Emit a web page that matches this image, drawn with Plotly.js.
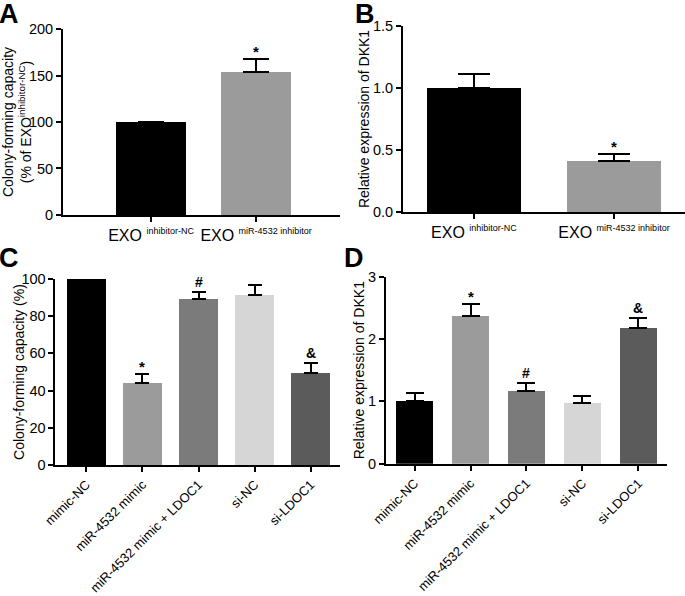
<!DOCTYPE html>
<html>
<head>
<meta charset="utf-8">
<script src="https://cdn.plot.ly/plotly-3.0.1.min.js"></script>
<style>
  body { margin: 0; background: #fff; }
  #fig { width: 685px; height: 596px; }
</style>
</head>
<body>
<div id="fig"></div>
<script>
// panel A: colony forming, exosome groups
var labelsA = ['EXO <sup><span style="font-size:9px">inhibitor-NC</span></sup>', 'EXO <sup><span style="font-size:9px">miR-4532 inhibitor</span></sup>'];
var valuesA = [100, 153.5];
var errorsA = [0, 14.5];
var marksA = ['', '*'];
var colorsA = ['#000000', '#9b9b9b'];

// panel B: DKK1 expression, exosome groups
var labelsB = labelsA;
var valuesB = [1.0, 0.41];
var errorsB = [0.11, 0.06];
var marksB = ['', '*'];
var colorsB = ['#000000', '#9b9b9b'];

// panels C and D: five transfection groups
var groupsCD = ['mimic-NC', 'miR-4532 mimic', 'miR-4532 mimic + LDOC1', 'si-NC', 'si-LDOC1'];
var colorsCD = ['#000000', '#9b9b9b', '#7b7b7b', '#d6d6d6', '#5b5b5b'];

var valuesC = [100, 44, 89, 91.5, 49.5];
var errorsC = [0, 4.8, 4.2, 5.2, 5.2];
var marksC = ['', '*', '#', '', '&'];

var valuesD = [1.0, 2.37, 1.16, 0.98, 2.17];
var errorsD = [0.13, 0.19, 0.13, 0.11, 0.17];
var marksD = ['', '*', '#', '', '&'];

var fontFam = 'Arial, "Liberation Sans", Helvetica, sans-serif';

function idx(arr) {
  var out = [];
  for (var i = 0; i < arr.length; i++) out.push(i);
  return out;
}

function zeros(arr) {
  return arr.map(function () { return 0; });
}

function barTrace(vals, errs, colors, width, capw, ax) {
  return {
    type: 'bar',
    x: idx(vals),
    y: vals,
    width: width,
    xaxis: 'x' + ax,
    yaxis: 'y' + ax,
    marker: { color: colors, line: { width: 0 } },
    error_y: {
      type: 'data',
      symmetric: false,
      array: errs,
      arrayminus: zeros(errs),
      color: '#000000',
      thickness: 2,
      width: capw
    },
    hoverinfo: 'none',
    showlegend: false
  };
}

function xAxis(domain, range, labels, anchor, angle, size) {
  return {
    domain: domain,
    range: range,
    anchor: anchor,
    tickmode: 'array',
    tickvals: idx(labels),
    ticktext: labels,
    tickangle: angle,
    ticks: 'outside',
    ticklen: 5,
    tickwidth: 2,
    tickcolor: '#000',
    showline: true,
    linecolor: '#000',
    linewidth: 2,
    showgrid: false,
    zeroline: false,
    tickfont: { family: fontFam, size: size, color: '#000' }
  };
}

function yAxis(domain, range, dtick, fmt, title, anchor, standoff) {
  return {
    domain: domain,
    range: range,
    anchor: anchor,
    dtick: dtick,
    tick0: 0,
    tickformat: fmt,
    ticks: 'outside',
    ticklen: 5,
    tickwidth: 2,
    tickcolor: '#000',
    showline: true,
    linecolor: '#000',
    linewidth: 2,
    showgrid: false,
    zeroline: false,
    tickfont: { family: fontFam, size: 14.5, color: '#000' },
    title: { text: title, font: { family: fontFam, size: 14, color: '#000' }, standoff: standoff }
  };
}

var data = [
  barTrace(valuesA, errorsA, colorsA, 0.67, 13, ''),
  barTrace(valuesB, errorsB, colorsB, 0.67, 16, '2'),
  barTrace(valuesC, errorsC, colorsCD, 0.69, 7, '3'),
  barTrace(valuesD, errorsD, colorsCD, 0.66, 9, '4')
];
data[0].xaxis = 'x';
data[0].yaxis = 'y';

var annos = [];
function addMarks(marks, vals, errs, ax) {
  for (var i = 0; i < marks.length; i++) {
    if (marks[i] === '') continue;
    annos.push({
      xref: ax.x, yref: ax.y,
      x: i, y: vals[i] + errs[i],
      text: marks[i],
      showarrow: false,
      yanchor: 'bottom',
      yshift: marks[i] === '*' ? -3 : 0,
      font: { family: fontFam, size: marks[i] === '*' ? 15 : 14, color: '#000', weight: 'bold' }
    });
  }
}
addMarks(marksA, valuesA, errorsA, { x: 'x', y: 'y' });
addMarks(marksB, valuesB, errorsB, { x: 'x2', y: 'y2' });
addMarks(marksC, valuesC, errorsC, { x: 'x3', y: 'y3' });
addMarks(marksD, valuesD, errorsD, { x: 'x4', y: 'y4' });

var letters = [['A', -0.004, 1.0], ['B', 0.516, 1.0], ['C', -0.004, 0.59], ['D', 0.499, 0.59]];
letters.forEach(function (l) {
  annos.push({
    xref: 'paper', yref: 'paper', x: l[1], y: l[2],
    xanchor: 'left', yanchor: 'top', yshift: 3,
    text: l[0], showarrow: false,
    font: { family: fontFam, size: 27, color: '#000', weight: 'bold' }
  });
});

// y title of panel C placed by hand, the axis title sits too far out
annos.push({
  xref: 'paper', yref: 'paper', x: 0.0277, y: 0.3759,
  xanchor: 'center', yanchor: 'middle', textangle: -90,
  text: 'Colony-forming capacity (%)', showarrow: false,
  font: { family: fontFam, size: 14, color: '#000' }
});

var layout = {
  width: 685,
  height: 596,
  margin: { l: 0, r: 0, t: 0, b: 0 },
  paper_bgcolor: '#ffffff',
  plot_bgcolor: '#ffffff',
  bargap: 0,
  font: { family: fontFam, color: '#000' },
  xaxis: xAxis([0.092, 0.4964], [-0.838, 1.8], labelsA, 'y', 0, 16),
  yaxis: yAxis([0.6393, 0.9513], [0, 200], 50, '', 'Colony-forming capacity<br>(% of EXO<sup>inhibitor-NC</sup>)', 'x', 0),
  xaxis2: xAxis([0.5883, 1.0], [-0.507, 1.507], labelsB, 'y2', 0, 16),
  yaxis2: yAxis([0.6443, 0.9564], [0, 1.5], 0.5, '.1f', 'Relative expression of DKK1', 'x2', 0),
  xaxis3: xAxis([0.081, 0.4964], [-0.55, 4.52], groupsCD, 'y3', -45, 13),
  yaxis3: yAxis([0.2198, 0.5319], [0, 100], 20, '', '', 'x3', 0),
  xaxis4: xAxis([0.5635, 0.9737], [-0.51, 4.51], groupsCD, 'y4', -45, 13),
  yaxis4: yAxis([0.2221, 0.5357], [0, 3], 1, '', 'Relative expression of DKK1', 'x4', 0),
  annotations: annos
};

Plotly.newPlot('fig', data, layout, { staticPlot: true });
</script>
</body>
</html>
